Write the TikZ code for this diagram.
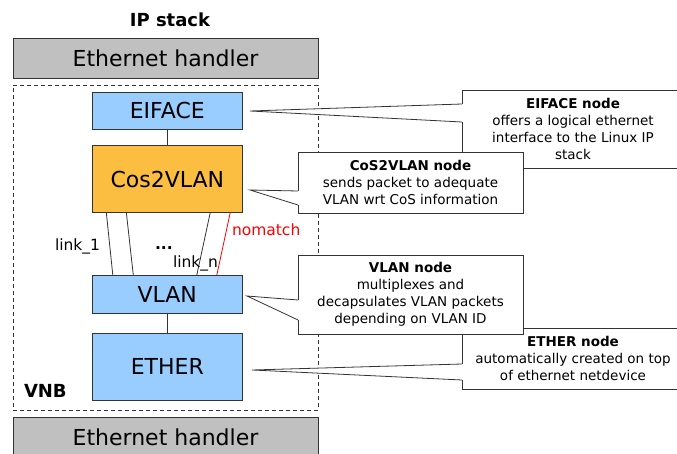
\documentclass[tikz,border=0pt]{standalone}
\usepackage{fontspec}
\setsansfont{DejaVu Sans}
\usetikzlibrary{positioning}
\definecolor{nodeblue}{HTML}{99CCFF}
\definecolor{nodeorange}{HTML}{FBBE41}
\definecolor{handlergray}{HTML}{C0C0C0}
\definecolor{edgegray}{HTML}{333333}

\begin{document}
\begin{tikzpicture}[x=1pt, y=-1pt, font=\sffamily, line width=0.8pt, line join=miter,
        every node/.style={outer sep=0pt, inner sep=0pt},
        handler/.style={draw=edgegray, fill=handlergray, minimum width=305pt, minimum height=40pt, font=\sffamily\fontsize{22}{26}\selectfont},
        vnbnode/.style={draw=edgegray, fill=nodeblue, minimum width=150pt, font=\sffamily\fontsize{22}{26}\selectfont},
        note/.style={draw=edgegray, fill=white, align=center, font=\sffamily\fontsize{13.5}{17}\selectfont},
        pointer/.style={draw=edgegray, fill=white},
        linklabel/.style={anchor=base west, font=\sffamily\fontsize{15.5}{18}\selectfont}]
    \useasboundingbox (0,0) rectangle (677,454);

    % stack around VNB
    \node[anchor=base, font=\sffamily\bfseries\fontsize{18}{22}\selectfont] (ipstack) at (170,27) {IP stack};
    \node[handler] (tophandler) at (165.5,58) {Ethernet handler};
    \node[handler] (bothandler) at (165.5,437) {Ethernet handler};
    \node[draw=edgegray, dash pattern=on 4pt off 3pt, minimum width=305pt, minimum height=325pt] (vnb) at (165.5,247.5) {};
    \node[anchor=base west, font=\sffamily\bfseries\fontsize{18}{22}\selectfont] (vnblabel) at (24,397) {VNB};

    % VNB nodes
    \node[vnbnode, minimum height=36.7pt] (eiface) at (167.3,110.7) {EIFACE};
    \node[vnbnode, fill=nodeorange, minimum height=66.6pt] (cos) at (167.3,179) {Cos2VLAN};
    \node[vnbnode, minimum height=38.3pt] (vlan) at (167.3,294.2) {VLAN};
    \node[vnbnode, minimum height=66.7pt] (ether) at (167.3,366.7) {ETHER};

    \draw[edgegray] (eiface.south) -- (cos.north);
    \draw[edgegray] (vlan.south) -- (ether.north);
    \draw[edgegray] ([xshift=-61pt]cos.south) -- ([xshift=-54.5pt]vlan.north);
    \draw[edgegray] ([xshift=-41pt]cos.south) -- ([xshift=-34pt]vlan.north);
    \draw[edgegray] ([xshift=43pt]cos.south) -- ([xshift=29.5pt]vlan.north);
    \draw[red] ([xshift=63pt]cos.south) -- ([xshift=49.5pt]vlan.north);

    \node[linklabel] (link1) at (55,251) {link\_1};
    \node[linklabel, font=\sffamily\bfseries\fontsize{15.5}{18}\selectfont] (dots) at (155,250) {...};
    \node[linklabel] (linkn) at (173,268) {link\_n};
    \node[linklabel, text=red] (nomatch) at (232,236) {nomatch};

    % callouts
    \coordinate (eiftip) at (250,111);
    \coordinate (costip) at (250,190);
    \coordinate (vlantip) at (247,296);
    \coordinate (ethertip) at (252,370);

    \node[note, minimum width=222pt, minimum height=78pt] (eifnote) at (573,129)
        {{\bfseries EIFACE node}\\offers a logical ethernet\\interface to the Linux IP\\stack};
    \draw[white, line width=1.4pt] ([yshift=-14pt]eifnote.north west) -- ([yshift=-32pt]eifnote.north west);
    \filldraw[pointer] ([yshift=-14pt]eifnote.north west) -- (eiftip) -- ([yshift=-32pt]eifnote.north west);

    \node[note, minimum width=225pt, minimum height=61pt] (cosnote) at (410.5,182.5)
        {{\bfseries CoS2VLAN node}\\sends packet to adequate\\VLAN wrt CoS information};
    \draw[white, line width=1.4pt] ([yshift=-39pt]cosnote.north west) -- ([yshift=-53pt]cosnote.north west);
    \filldraw[pointer] ([yshift=-39pt]cosnote.north west) -- (costip) -- ([yshift=-53pt]cosnote.north west);

    \node[note, minimum width=222pt, minimum height=61pt] (ethernote) at (573,358.5)
        {{\bfseries ETHER node}\\automatically created on top\\of ethernet netdevice};
    \draw[white, line width=1.4pt] ([yshift=-36pt]ethernote.north west) -- ([yshift=-52pt]ethernote.north west);
    \filldraw[pointer] ([yshift=-36pt]ethernote.north west) -- (ethertip) -- ([yshift=-52pt]ethernote.north west);

    \node[note, minimum width=225pt, minimum height=79pt] (vlannote) at (410.5,294.5)
        {{\bfseries VLAN node}\\multiplexes and\\decapsulates VLAN packets\\depending on VLAN ID};
    \draw[white, line width=1.4pt] ([yshift=-45pt]vlannote.north west) -- ([yshift=-65pt]vlannote.north west);
    \filldraw[pointer] ([yshift=-45pt]vlannote.north west) -- (vlantip) -- ([yshift=-65pt]vlannote.north west);
\end{tikzpicture}
\end{document}
